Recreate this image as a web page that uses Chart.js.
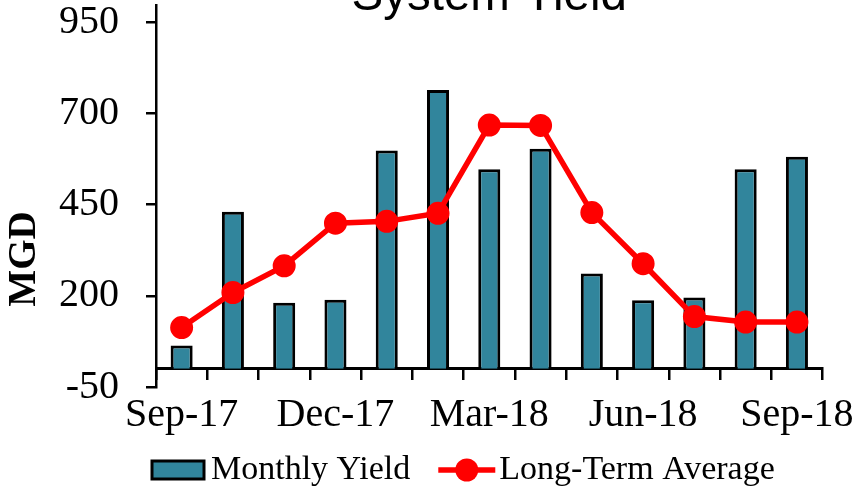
<!DOCTYPE html>
<html>
<head>
<meta charset="utf-8">
<script src="https://cdn.jsdelivr.net/npm/chart.js@4.4.1/dist/chart.umd.min.js"></script>
<style>
  html, body { margin: 0; padding: 0; background: #fff; }
  #frame { position: relative; width: 859px; height: 492px; overflow: hidden; }
  #holder { position: absolute; left: 0; top: -46px; width: 859px; height: 538px; }
</style>
</head>
<body>
<div id="frame"><div id="holder"><canvas id="yieldChart"></canvas></div></div>
<script>
var months = ["Sep-17", "Oct-17", "Nov-17", "Dec-17", "Jan-18", "Feb-18", "Mar-18",
              "Apr-18", "May-18", "Jun-18", "Jul-18", "Aug-18", "Sep-18"];
var shownMonths = ["Sep-17", "Dec-17", "Mar-18", "Jun-18", "Sep-18"];
var monthlyYield = [64, 430, 181, 189, 598, 764, 547, 603, 261, 188, 195, 547, 581];
var longTermAvg = [113, 209, 282, 399, 404, 426, 668, 667, 428, 288, 143, 128, 128];
var yTicks = [-50, 200, 450, 700, 950];
var yTitle = "MGD";

const serif = "'Liberation Serif', 'Times New Roman', serif";

// axis title sits low on the left, legend under the month labels
const extras = {
  id: 'extras',
  afterDraw(chart) {
    const ctx = chart.ctx;
    const area = chart.chartArea;
    ctx.save();
    ctx.fillStyle = '#000';
    ctx.font = "bold 39px " + serif;
    ctx.textAlign = 'center';
    ctx.textBaseline = 'middle';
    ctx.translate(area.left - 131, area.bottom - 128);
    ctx.rotate(-Math.PI / 2);
    ctx.fillText(yTitle, 0, 0);
    ctx.restore();

    const y = chart.height - 22;
    let x = area.left - 4;
    ctx.save();
    ctx.font = "34px " + serif;
    ctx.textBaseline = 'middle';
    ctx.textAlign = 'left';
    chart.data.datasets.forEach(ds => {
      if (ds.type === 'line') {
        ctx.strokeStyle = ds.borderColor;
        ctx.lineWidth = 5.5;
        ctx.beginPath();
        ctx.moveTo(x, y);
        ctx.lineTo(x + 57, y);
        ctx.stroke();
        ctx.fillStyle = ds.pointBackgroundColor;
        ctx.beginPath();
        ctx.arc(x + 28.5, y, 11.5, 0, Math.PI * 2);
        ctx.fill();
        x += 61;
      } else {
        ctx.fillStyle = ds.backgroundColor;
        ctx.fillRect(x, y - 9, 52, 18);
        ctx.strokeStyle = '#000';
        ctx.lineWidth = 3;
        ctx.strokeRect(x, y - 9, 52, 18);
        x += 59;
      }
      ctx.fillStyle = '#000';
      ctx.fillText(ds.label, x, y);
      x += ctx.measureText(ds.label).width + 28;
    });
    ctx.restore();
  }
};

new Chart("yieldChart", {
  type: "bar",
  data: {
    labels: months,
    datasets: [{
      label: "Monthly Yield",
      data: monthlyYield,
      backgroundColor: "#31859C",
      borderColor: "#000",
      borderWidth: 3,
      barPercentage: 0.43,
      categoryPercentage: 1,
      order: 2
    }, {
      type: "line",
      label: "Long-Term Average",
      data: longTermAvg,
      borderColor: "#FF0000",
      borderWidth: 5.5,
      pointRadius: 10.5,
      pointBackgroundColor: "#FF0000",
      pointBorderColor: "#FF0000",
      pointBorderWidth: 2,
      tension: 0,
      order: 1
    }]
  },
  options: {
    responsive: true,
    maintainAspectRatio: false,
    animation: false,
    layout: { padding: { left: 32, right: 36, top: 0, bottom: 49 } },
    plugins: {
      legend: { display: false },
      tooltip: { enabled: false },
      title: {
        display: true,
        text: "System Yield",
        fullSize: false,
        color: "#000",
        font: { family: "'Liberation Sans', Arial, sans-serif", size: 47.5, weight: "normal", lineHeight: 1 },
        padding: { top: 0, bottom: -16 }
      }
    },
    scales: {
      x: {
        position: { y: 0 },
        offset: true,
        ticks: { display: false },
        grid: { offset: true, drawOnChartArea: false, tickLength: 10, color: "#000", lineWidth: 2.5 },
        border: { color: "#000", width: 3 }
      },
      x2: {
        axis: "x",
        type: "category",
        position: "bottom",
        offset: true,
        grid: { display: false, drawTicks: false },
        border: { display: false },
        ticks: {
          autoSkip: false,
          maxRotation: 0,
          padding: 4,
          color: "#000",
          font: { family: serif, size: 40 },
          callback: function (v, i) {
            return shownMonths.includes(months[i]) ? months[i] : "";
          }
        }
      },
      y: {
        min: -50,
        max: 997,
        afterBuildTicks: axis => { axis.ticks = yTicks.map(v => ({ value: v })); },
        ticks: { color: "#000", padding: 27, font: { family: serif, size: 40 } },
        grid: { drawOnChartArea: false, tickLength: 10, color: "#000", lineWidth: 2.5 },
        border: { color: "#000", width: 2.5 }
      }
    }
  },
  plugins: [extras]
});
</script>
</body>
</html>
